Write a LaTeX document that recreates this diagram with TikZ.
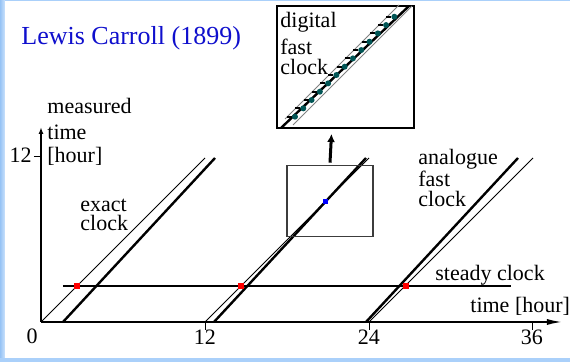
\documentclass[tikz,border=0pt]{standalone}
\usepackage{fontspec}
\setmainfont{Liberation Serif}
\usetikzlibrary{arrows.meta,positioning,calc}
\definecolor{slideblue}{RGB}{170,208,250}
\definecolor{slideedge}{RGB}{150,195,245}
\definecolor{titleblue}{RGB}{15,15,205}
\definecolor{dotteal}{RGB}{0,85,85}
\definecolor{boxgray}{RGB}{60,60,60}

\begin{document}
\begin{tikzpicture}[
  x=0.5pt, y=-0.5pt,
  font=\fontsize{11}{13}\selectfont,
  lbl/.style={anchor=base west, inner sep=0pt},
  num/.style={inner sep=0pt},
  axis/.style={line width=1pt},
  exact/.style={line width=0.5pt},
  clock/.style={line width=1.2pt},
  redsq/.style={fill=red, minimum size=2.8pt, inner sep=0pt},
  bluesq/.style={fill=blue, minimum size=2.8pt, inner sep=0pt},
  zoomarrow/.style={line width=1.5pt, -{Latex[length=4pt,width=4pt]}}
]

% Slide background
\fill[slideblue] (0,0) rectangle (570,362);
\shade[left color=slideedge, right color=slideblue!60] (0,1) rectangle (5,358);
\fill[white] (5,1) rectangle (570,358);
\useasboundingbox (0,0) rectangle (570,362);

\node[lbl, font=\fontsize{13}{15}\selectfont, text=titleblue] (title) at (21,45) {Lewis Carroll (1899)};

% Axes
\coordinate (origin) at (41,322);
\coordinate (xend) at (563,322);
\coordinate (yend) at (41,127);
\draw[axis, -{Latex[length=8pt,width=3pt]}] (origin) -- (xend);
\draw[axis, -{Latex[length=3.5pt,width=2.5pt]}] (origin) -- (yend);

\node[num] (zero) at (32,336) {0};
\foreach \h/\x in {12/205,24/369,36/532} {
  \draw[thin] (\x,322) -- (\x,330);
  \node[num] (hour\h) at (\x,337) {\h};
}
\draw[thin] (34,156) -- (41,156);
\node[num, anchor=east] (ytick) at (32,155) {12};

\node[lbl] (ylab1) at (47,114) {measured};
\node[lbl] (ylab2) at (47,140) {time};
\node[lbl] (ylab3) at (47,163) {[hour]};
\node[lbl] (xlab) at (470,313) {time [hour]};

% Clock lines
\foreach \a/\b in {41/63, 205/214, 369/366} {
  \draw[exact] (\a,322) -- ++(164,-164);
  \draw[clock] (\b,322) -- ++(152,-164);
}

\node[lbl] (exact1) at (80,212) {exact};
\node[lbl] (exact2) at (80,231) {clock};
\node[lbl] (analog1) at (418,165) {analogue};
\node[lbl] (analog2) at (418,187) {fast};
\node[lbl] (analog3) at (418,207) {clock};

% Steady clock
\draw[axis] (63,286) -- (511,286);
\node[lbl] (steady) at (435,281) {steady clock};
\node[redsq] (sync1) at (77,286) {};
\node[redsq] (sync2) at (241,286) {};
\node[redsq] (sync3) at (406,286) {};

% Zoom window
\node[draw=boxgray, line width=0.8pt, minimum width=43pt, minimum height=35.5pt, inner sep=0pt] (zoombox) at (330,201) {};
\node[bluesq] (fastpt) at (325.5,201.5) {};

\node[draw, line width=1pt, fill=white, minimum width=68.5pt, minimum height=61pt, inner sep=0pt] (inset) at (345.5,67) {};
\begin{scope}
  \clip (inset.south west) rectangle (inset.north east);
  \draw[exact, gray] (285,119) -- (399,5);
  \draw[exact, gray] (293,125) -- (412,6);
  \draw[clock] (281,128) -- (409,6);
  \foreach \k in {0,...,12} {
    \draw[line width=1pt] ({295+8.28*\k-8},{116.7-8.33*\k}) -- ({295+8.28*\k-3},{116.7-8.33*\k});
    \fill[dotteal] ({295+8.28*\k},{116.7-8.33*\k}) circle (1.5pt);
  }
\end{scope}
\node[lbl] (dig1) at (280,28) {digital};
\node[lbl] (dig2) at (280,55) {fast};
\node[lbl] (dig3) at (280,75) {clock};

\draw[zoomarrow] ([yshift=1pt]zoombox.north) -- ([xshift=-7pt,yshift=-2.5pt]inset.south);

\end{tikzpicture}
\end{document}
